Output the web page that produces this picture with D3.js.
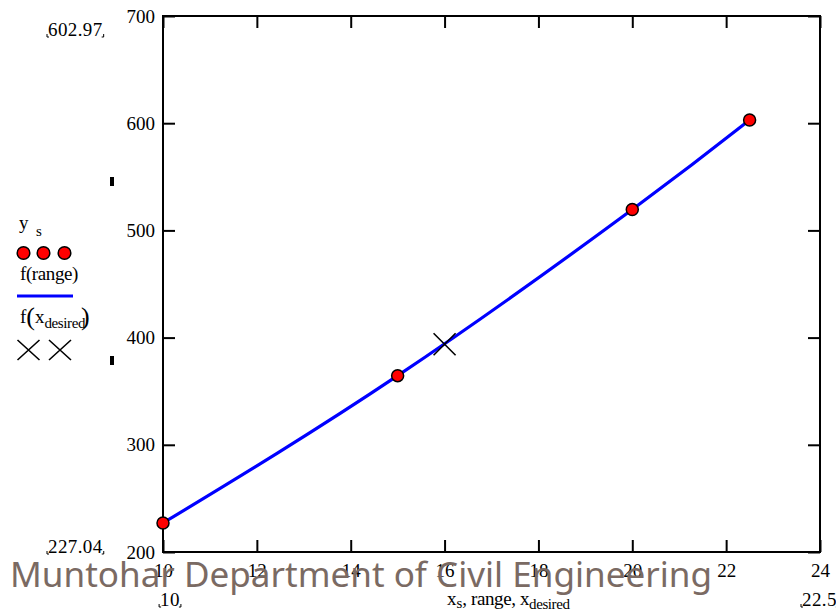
<!DOCTYPE html>
<html>
<head>
<meta charset="utf-8">
<script src="https://cdn.jsdelivr.net/npm/d3@7"></script>
<style>
  html, body { margin: 0; padding: 0; background: #fff; }
  svg { display: block; }
  .serif { font-family: "Liberation Serif", "Times New Roman", serif; fill: #000; }
</style>
</head>
<body>
<script>
// Sample points y_s at x_s
const xs = [10, 15, 20, 22.5];
const ys = [227.04, 364.5, 519.5, 602.97];
// Interpolated value at the requested x
const xDesired = [16];
const fDesired = [393.8];
// Axis ticks
const xTicks = [10, 12, 14, 16, 18, 20, 22, 24];
const yTicks = [200, 300, 400, 500, 600, 700];
// Plot limits shown in the corners
const yLimitLabels = ["602.97", "227.04"];
const xLimitLabels = ["10", "22.5"];

const W = 836, H = 611;
const svg = d3.select("body").append("svg").attr("width", W).attr("height", H);

const x = d3.scaleLinear().domain([10, 24]).range([163, 820]);
const y = d3.scaleLinear().domain([200, 700]).range([552, 16]);

// Axes with inward ticks on all four sides
const tickLen = 12;
const axStyle = g => {
  g.select(".domain").remove();
  g.selectAll(".tick line").attr("stroke", "#000").attr("stroke-width", 2);
  g.selectAll(".tick text").attr("class", "serif").attr("font-size", 19).attr("fill", "#000");
};
svg.append("g").attr("transform", `translate(0,${y(200)})`)
  .call(d3.axisBottom(x).tickValues(xTicks).tickSize(-tickLen).tickPadding(12).tickFormat(d3.format("d")))
  .call(axStyle);
svg.append("g").attr("transform", `translate(0,${y(700)})`)
  .call(d3.axisTop(x).tickValues(xTicks).tickSize(-tickLen).tickFormat(""))
  .call(axStyle);
svg.append("g").attr("transform", `translate(${x(10)},0)`)
  .call(d3.axisLeft(y).tickValues(yTicks).tickSize(-tickLen).tickPadding(8).tickFormat(d3.format("d")))
  .call(axStyle);
svg.append("g").attr("transform", `translate(${x(24)},0)`)
  .call(d3.axisRight(y).tickValues(yTicks).tickSize(-tickLen).tickFormat(""))
  .call(axStyle);

// Frame
svg.append("rect")
  .attr("x", x(10)).attr("y", y(700))
  .attr("width", x(24) - x(10)).attr("height", y(200) - y(700))
  .attr("fill", "none").attr("stroke", "#000").attr("stroke-width", 2);

// Smooth curve f(range)
const pts = xs.map((d, i) => [d, ys[i]]);
svg.append("path")
  .datum(pts)
  .attr("d", d3.line().x(d => x(d[0])).y(d => y(d[1])).curve(d3.curveNatural))
  .attr("fill", "none").attr("stroke", "#0000ff").attr("stroke-width", 3.2);

// Sample markers
svg.selectAll("circle.pt").data(pts).join("circle")
  .attr("class", "pt")
  .attr("cx", d => x(d[0])).attr("cy", d => y(d[1])).attr("r", 6)
  .attr("fill", "#ff0000").attr("stroke", "#000").attr("stroke-width", 1.5);

// Cross marker for f(x_desired)
function cross(g, cx, cy, hw, hh) {
  g.append("path")
    .attr("d", `M${cx - hw},${cy - hh}L${cx + hw},${cy + hh}M${cx - hw},${cy + hh}L${cx + hw},${cy - hh}`)
    .attr("stroke", "#000").attr("stroke-width", 1.6).attr("fill", "none");
}
xDesired.forEach((d, i) => cross(svg, x(d), y(fDesired[i]), 11, 11));

// Legend
const leg = svg.append("g");
const t1 = leg.append("text").attr("class", "serif").attr("x", 19).attr("y", 229).attr("font-size", 19);
t1.append("tspan").text("y");
t1.append("tspan").attr("x", 36).attr("y", 236).attr("font-size", 15).text("s");
[23.5, 43.5, 64.5].forEach(cx => leg.append("circle").attr("cx", cx).attr("cy", 253).attr("r", 6.3)
  .attr("fill", "#ff0000").attr("stroke", "#000").attr("stroke-width", 1.5));
leg.append("text").attr("class", "serif").attr("x", 20).attr("y", 280).attr("font-size", 19)
  .attr("letter-spacing", -0.4).text("f(range)");
leg.append("line").attr("x1", 17).attr("x2", 73).attr("y1", 296).attr("y2", 296)
  .attr("stroke", "#0000ff").attr("stroke-width", 3);
const t3 = leg.append("text").attr("class", "serif").attr("x", 20).attr("y", 323).attr("font-size", 19);
t3.append("tspan").text("f");
t3.append("tspan").attr("font-size", 26).attr("dy", 2).text("(");
t3.append("tspan").attr("dy", -2).text("x");
t3.append("tspan").attr("font-size", 15).attr("dy", 5).attr("letter-spacing", -0.4).text("desired");
t3.append("tspan").attr("font-size", 26).attr("dy", -3).attr("dx", -4).text(")");
[28.5, 60].forEach(cx => cross(leg, cx, 350, 11, 10));

// Small placeholder marks
[177, 356].forEach(yy => svg.append("rect").attr("x", 110).attr("y", yy).attr("width", 4).attr("height", 9).attr("fill", "#000"));

// Corner limit labels with bracket marks
function limitLabel(tx, ty, str, anchor) {
  const t = svg.append("text").attr("class", "serif").attr("x", tx).attr("y", ty)
    .attr("font-size", 19).attr("letter-spacing", 0.4).attr("text-anchor", anchor).text(str);
  const bb = t.node().getBBox();
  const l = bb.x - 1, r = bb.x + bb.width + 1, b = ty + 1;
  svg.append("path").attr("d", `M${l},${b - 3}L${l},${b}L${l + 2},${b}`).attr("stroke", "#000").attr("fill", "none").attr("stroke-width", 1);
  svg.append("path").attr("d", `M${r - 2},${b}L${r},${b}L${r},${b - 3}`).attr("stroke", "#000").attr("fill", "none").attr("stroke-width", 1);
}
limitLabel(48, 36, yLimitLabels[0], "start");
limitLabel(48, 553, yLimitLabels[1], "start");
limitLabel(170, 606, xLimitLabels[0], "middle");
limitLabel(802, 606, xLimitLabels[1], "start");

// Axis title
const xt = svg.append("text").attr("class", "serif").attr("x", 447).attr("y", 605).attr("font-size", 19);
xt.append("tspan").text("x");
xt.append("tspan").attr("font-size", 15).attr("dy", 3).text("s");
xt.append("tspan").attr("dy", -3).attr("letter-spacing", -0.4).text(", range, x");
xt.append("tspan").attr("font-size", 15).attr("dy", 4).attr("letter-spacing", -0.4).text("desired");

// Watermark
svg.append("text")
  .attr("x", 10).attr("y", 587)
  .attr("font-family", "'Noto Sans', 'Open Sans', sans-serif")
  .attr("font-size", 35)
  .attr("textLength", 702).attr("lengthAdjust", "spacingAndGlyphs")
  .attr("fill", "#7a6a63")
  .text("Muntohar Department of Civil Engineering");
</script>
</body>
</html>
